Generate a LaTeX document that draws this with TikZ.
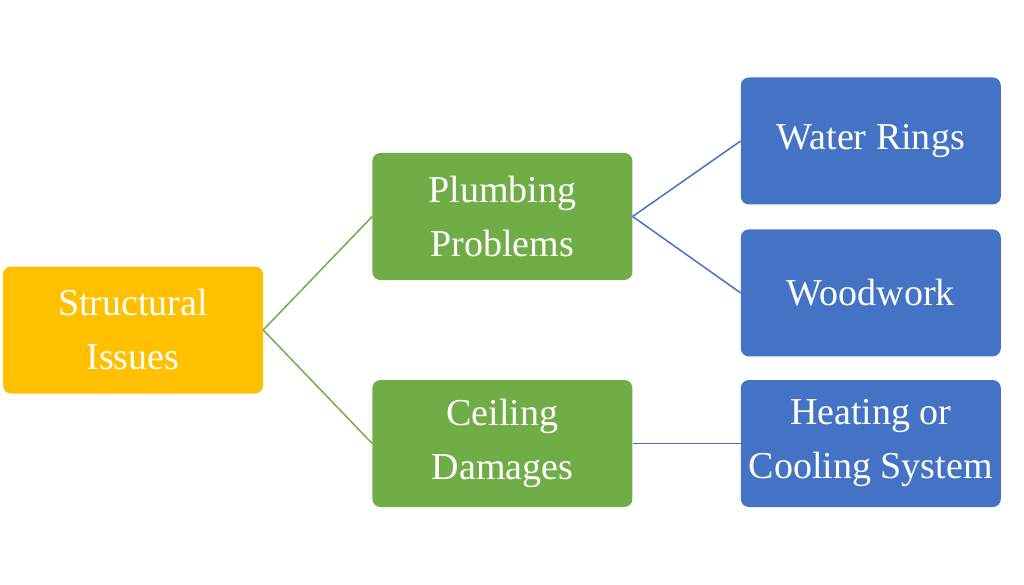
\documentclass[tikz,border=0pt]{standalone}
\usepackage{fontspec}
\setmainfont{Liberation Serif}
\usetikzlibrary{positioning}
\definecolor{topc}{HTML}{FFC000}
\definecolor{midc}{HTML}{70AD47}
\definecolor{leafc}{HTML}{4472C4}
\begin{document}
\begin{tikzpicture}[main/.style = {rounded corners=8pt, minimum width=260pt, minimum height=127pt, inner sep=0pt, align=center, text=white, font=\fontsize{38}{54}\selectfont}]
            \useasboundingbox (0,0) rectangle (1024pt,-585pt);
            \node[main,fill=topc] (1) at (133pt,-330pt) {Structural\\Issues};
            \node[main,fill=midc] (2) [right=109pt of 1, yshift=113.5pt] {Plumbing\\Problems};
            \node[main,fill=midc] (3) [right=109pt of 1, yshift=-113.5pt] {Ceiling\\Damages};
            \node[main,fill=leafc] (4) [right=108pt of 2, yshift=75.5pt] {Water Rings};
            \node[main,fill=leafc] (5) [below=24.5pt of 4] {Woodwork};
            \node[main,fill=leafc] (6) [right=108pt of 3] {Heating or\\Cooling System};

            \draw[midc, line width=1.5pt] (1.east) -- (2.west);
            \draw[midc, line width=1.5pt] (1.east) -- (3.west);
            \draw[leafc, line width=1.5pt] (2.east) -- (4.west);
            \draw[leafc, line width=1.5pt] (2.east) -- (5.west);
            \draw[leafc, line width=1.5pt] (3.east) -- (6.west);
        \end{tikzpicture}
\end{document}
